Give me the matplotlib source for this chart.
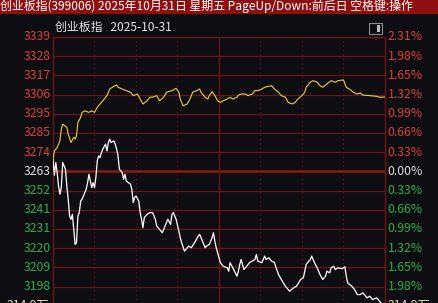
import numpy as np
import matplotlib.pyplot as plt
from matplotlib.patches import Rectangle

plt.rcParams['font.family'] = ['Noto Sans CJK SC', 'DejaVu Sans']

title = "创业板指(399006) 2025年10月31日 星期五 PageUp/Down:前后日 空格键:操作"
subtitle = "创业板指   2025-10-31"
pre_close = 3263.2

# left / right axis labels
pct_steps = [2.31, 1.98, 1.65, 1.32, 0.99, 0.66, 0.33, 0.00,
             -0.33, -0.66, -0.99, -1.32, -1.65, -1.98]
price_labels = ["3339", "3328", "3317", "3306", "3295", "3285", "3274", "3263",
                "3252", "3241", "3231", "3220", "3209", "3198"]
pct_labels = ["2.31%", "1.98%", "1.65%", "1.32%", "0.99%", "0.66%", "0.33%", "0.00%",
              "0.33%", "0.66%", "0.99%", "1.32%", "1.65%", "1.98%"]
vol_label = "314.9万"

# price line (white), minutes from 9:30
price_t = [0, 1, 2, 3, 4, 5, 6, 7, 9, 10, 11, 12, 13, 14, 15, 16, 17, 18, 19, 20,
           21, 23, 24, 25, 26, 27, 28, 29, 30, 31, 32, 33, 34, 35, 36, 38, 39, 40,
           41, 42, 44, 45, 46, 47, 48, 50, 51, 52, 53, 56, 57, 58, 59, 60, 62, 63,
           64, 65, 66, 68, 70, 72, 74, 75, 77, 79, 81, 83, 85, 86, 87, 89, 91, 92,
           93, 95, 97, 98, 100, 103, 105, 106, 107, 110, 111, 113, 115, 116, 117,
           118, 121, 123, 126, 127, 128, 130, 133, 134, 135, 136, 138, 140, 142,
           144, 146, 147, 148, 151, 153, 154, 156, 158, 160, 163, 165, 168, 171,
           174, 176, 179, 181, 182, 183, 186, 187, 188, 189, 191, 193, 195, 197,
           198, 200, 201, 203, 204, 206, 209, 211, 212, 213, 216, 218, 220, 222,
           224, 227, 229, 231, 234, 236, 239, 240]
price_v = [3270.0, 3261.1, 3268.2, 3262.6, 3255.0, 3250.4, 3254.1, 3268.2, 3264.4,
           3255.0, 3247.6, 3238.2, 3236.3, 3239.1, 3230.7, 3222.2, 3223.2, 3238.2,
           3240.1, 3246.6, 3247.6, 3251.3, 3253.2, 3256.9, 3261.6, 3257.8, 3254.1,
           3256.9, 3254.1, 3259.8, 3269.1, 3271.9, 3271.0, 3273.8, 3275.7, 3278.5,
           3274.7, 3279.4, 3281.3, 3279.4, 3280.3, 3278.5, 3275.7, 3271.9, 3264.4,
           3262.6, 3258.8, 3261.6, 3257.8, 3256.0, 3253.2, 3245.7, 3248.5, 3249.4,
           3246.6, 3240.1, 3236.3, 3231.6, 3237.3, 3239.1, 3240.1, 3240.1, 3236.3,
           3232.5, 3230.7, 3228.8, 3232.5, 3236.3, 3233.5, 3239.1, 3240.1, 3236.3,
           3229.7, 3226.0, 3223.2, 3218.5, 3220.4, 3221.3, 3220.4, 3224.1, 3226.9,
           3227.9, 3226.0, 3220.4, 3221.3, 3222.2, 3226.0, 3228.8, 3224.1, 3220.4,
           3212.0, 3210.0, 3209.1, 3207.2, 3212.0, 3209.1, 3204.4, 3207.2, 3211.0,
           3213.8, 3208.2, 3210.0, 3212.0, 3212.9, 3213.8, 3216.6, 3212.9, 3212.0,
           3215.7, 3213.8, 3214.8, 3212.9, 3212.1, 3205.4, 3202.6, 3198.8, 3196.0,
           3197.9, 3198.8, 3202.6, 3203.5, 3207.2, 3211.0, 3213.8, 3215.7, 3213.8,
           3212.0, 3209.1, 3205.4, 3202.6, 3204.4, 3207.2, 3206.3, 3209.1, 3210.0,
           3208.2, 3209.1, 3208.6, 3209.7, 3204.4, 3200.7, 3198.8, 3196.9, 3194.1,
           3194.1, 3195.1, 3192.3, 3193.2, 3191.3, 3192.3, 3190.4, 3187.9, 3187.5]

# average line (yellow)
avg_t = [0, 1, 3, 5, 6, 7, 10, 11, 13, 15, 16, 17, 18, 20, 21, 23, 26, 28, 30, 32,
         34, 36, 39, 41, 44, 46, 47, 50, 53, 56, 58, 61, 63, 65, 68, 70, 72, 75, 77,
         80, 82, 86, 89, 91, 92, 94, 97, 99, 101, 104, 106, 107, 110, 112, 113, 115,
         117, 119, 121, 123, 126, 128, 130, 133, 134, 136, 139, 141, 144, 146, 148,
         151, 153, 156, 158, 160, 163, 165, 168, 170, 173, 175, 177, 180, 182, 183,
         186, 188, 191, 193, 195, 198, 201, 204, 206, 210, 212, 215, 217, 220, 222,
         224, 229, 234, 236, 240]
avg_v = [3270.0, 3274.7, 3276.6, 3280.3, 3286.9, 3289.7, 3287.9, 3284.1, 3279.4,
         3282.3, 3281.3, 3283.2, 3290.7, 3293.5, 3296.3, 3297.2, 3296.3, 3297.2,
         3296.3, 3299.1, 3301.0, 3302.8, 3305.7, 3309.4, 3310.9, 3311.7, 3310.4,
         3309.4, 3308.5, 3307.6, 3305.7, 3306.6, 3303.8, 3301.0, 3302.8, 3304.8,
         3304.8, 3305.7, 3302.8, 3304.8, 3307.6, 3308.5, 3309.8, 3307.6, 3303.8,
         3300.0, 3301.0, 3303.8, 3307.6, 3308.5, 3309.4, 3307.6, 3304.8, 3303.8,
         3305.7, 3307.9, 3305.7, 3302.8, 3301.9, 3302.8, 3303.8, 3304.8, 3303.8,
         3304.8, 3306.0, 3306.6, 3306.6, 3305.7, 3306.6, 3308.5, 3308.5, 3309.4,
         3310.4, 3310.9, 3311.3, 3309.4, 3307.6, 3305.7, 3304.8, 3301.9, 3301.0,
         3301.9, 3303.8, 3305.7, 3307.6, 3310.4, 3313.2, 3314.1, 3313.2, 3311.3,
         3310.4, 3312.2, 3314.1, 3313.2, 3314.1, 3314.5, 3310.4, 3309.0, 3307.6,
         3306.6, 3307.2, 3306.0, 3305.7, 3305.3, 3304.8, 3304.9]

W, H = 439, 303
bg = '#0e0e12'
grid_red = '#6e1414'
up_red = '#d9403c'
down_green = '#2fae47'

fig = plt.figure(figsize=(W / 100, H / 100), dpi=100)
fig.patch.set_facecolor(bg)

# title bar
fig.patches.append(Rectangle((0, 1 - 14 / H), 1, 14 / H, transform=fig.transFigure,
                             facecolor='#8e0f10', edgecolor='none'))
fig.text(0 / W, 1 - 6 / H, title, color='white', fontsize=8.6, va='center', ha='left')
fig.text(55 / W, 1 - 27 / H, subtitle, color='#e6e6e6', fontsize=8.6, va='center', ha='left')

# small toggle icon
fig.patches.append(Rectangle((369 / W, 1 - 34 / H), 13 / W, 11 / H, transform=fig.transFigure,
                             facecolor='none', edgecolor='#8a8a8a', lw=0.8))
fig.patches.append(Rectangle((377 / W, 1 - 32 / H), 3 / W, 7 / H, transform=fig.transFigure,
                             facecolor='#bdbdbd', edgecolor='none'))

top = pre_close * (1 + 0.0231)
bottom = pre_close * (1 - 0.0264)
ax = fig.add_axes([53 / W, 1 - 325 / H, 332 / W, (325 - 37) / H])
ax.set_facecolor(bg)
ax.set_xlim(0, 240)
ax.set_ylim(bottom, top)

levels = [pre_close * (1 + p / 100) for p in pct_steps]
for p, lv in zip(pct_steps, levels):
    if p == 0:
        ax.axhline(lv, color='#8a1a1a', lw=1.8, zorder=1)
    else:
        ax.axhline(lv, color=grid_red, lw=0.9, zorder=1)

for m in [30, 60, 90, 150, 180, 210]:
    ax.axvline(m, color=grid_red, lw=0.8, ls=(0, (1, 3)), zorder=1)
ax.axvline(120, color=grid_red, lw=0.9, zorder=1)

for s in ['left', 'right', 'top']:
    ax.spines[s].set_color(grid_red)
    ax.spines[s].set_linewidth(1.0)
ax.spines['bottom'].set_visible(False)
ax.set_xticks([])
ax.set_yticks([])

ax.plot(avg_t, avg_v, color='#e8cf4a', lw=0.8, zorder=3)
ax.plot(price_t, price_v, color='white', lw=0.9, zorder=4)

for p, lv, lab_l, lab_r in zip(pct_steps, levels, price_labels, pct_labels):
    c = up_red if p > 0 else (down_green if p < 0 else '#dcdcdc')
    ax.text(-1.5, lv, lab_l, color=c, fontsize=8.8, ha='right', va='center',
            transform=ax.get_yaxis_transform() if False else ax.transData, clip_on=False)
    ax.text(242, lv, lab_r, color=c, fontsize=8.8, ha='left', va='center', clip_on=False)

fig.text(7 / W, 1 - 299 / H, vol_label, color='#e8e0b0', fontsize=8.8, va='top', ha='left')
fig.text(388 / W, 1 - 299 / H, vol_label, color='#e8e0b0', fontsize=8.8, va='top', ha='left')

fig.savefig('out.png', dpi=100, facecolor=bg)
